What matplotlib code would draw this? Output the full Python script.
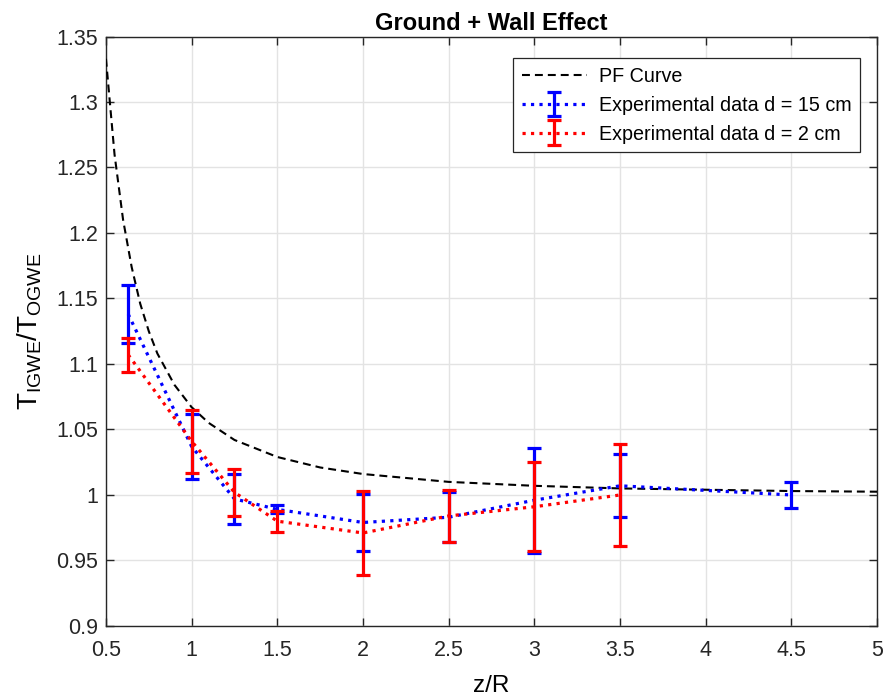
import matplotlib
matplotlib.use("Agg")
import matplotlib.pyplot as plt
from matplotlib.legend_handler import HandlerErrorbar
from matplotlib.container import ErrorbarContainer

plt.rcParams['font.family'] = ['Liberation Sans', 'DejaVu Sans']
plt.rcParams['mathtext.default'] = 'regular'
plt.rcParams['mathtext.fontset'] = 'custom'
plt.rcParams['mathtext.rm'] = 'Liberation Sans'

# PF curve
pf_x = [0.5, 0.55, 0.6, 0.65, 0.7, 0.75, 0.8, 0.9, 1.0, 1.1, 1.25, 1.5, 1.75, 2.0, 2.5, 3.0, 3.5, 4.0, 4.5, 5.0]
pf_y = [1.333, 1.260, 1.210, 1.174, 1.146, 1.125, 1.108, 1.084, 1.067, 1.055, 1.042, 1.029, 1.021, 1.016, 1.010, 1.007, 1.005, 1.004, 1.003, 1.0025]

# Experimental d = 15 cm
b_x = [0.63, 1.0, 1.25, 1.5, 2.0, 2.5, 3.0, 3.5, 4.5]
b_y = [1.138, 1.037, 0.997, 0.989, 0.979, 0.983, 0.996, 1.007, 1.000]
b_err = [0.022, 0.025, 0.019, 0.003, 0.022, 0.019, 0.040, 0.024, 0.010]

# Experimental d = 2 cm
r_x = [0.63, 1.0, 1.25, 1.5, 2.0, 2.5, 3.0, 3.5]
r_y = [1.107, 1.041, 1.002, 0.980, 0.971, 0.984, 0.991, 1.000]
r_err = [0.013, 0.024, 0.018, 0.008, 0.032, 0.020, 0.034, 0.039]

fig = plt.figure(figsize=(8.83, 6.98), dpi=100)
ax = fig.add_axes([0.12, 0.1032, 0.8732, 0.8445])

ax.plot(pf_x, pf_y, color='black', ls=(0, (3.8, 2.4)), lw=1.5, label='PF Curve', zorder=3)
ax.errorbar(b_x, b_y, yerr=b_err, color='blue', ls=':', lw=2.3, elinewidth=2.3,
            capsize=4.8, capthick=2.3, label='Experimental data d = 15 cm', zorder=4)
ax.errorbar(r_x, r_y, yerr=r_err, color='red', ls=':', lw=2.3, elinewidth=2.3,
            capsize=4.8, capthick=2.3, label='Experimental data d = 2 cm', zorder=5)

ax.set_xlim(0.5, 5)
ax.set_ylim(0.9, 1.35)
ax.set_xticks([0.5, 1, 1.5, 2, 2.5, 3, 3.5, 4, 4.5, 5])
ax.set_xticklabels(['0.5', '1', '1.5', '2', '2.5', '3', '3.5', '4', '4.5', '5'])
yt = [0.9, 0.95, 1.0, 1.05, 1.1, 1.15, 1.2, 1.25, 1.3, 1.35]
ax.set_yticks(yt)
ax.set_yticklabels(['0.9', '0.95', '1', '1.05', '1.1', '1.15', '1.2', '1.25', '1.3', '1.35'])
ax.tick_params(direction='in', top=True, right=True, labelsize=15.5, length=6, width=1,
               colors='#262626')
ax.tick_params(axis='y', pad=5.5)
ax.tick_params(axis='x', pad=10)
for s in ax.spines.values():
    s.set_color('#262626')
    s.set_linewidth(1)
ax.grid(True, color='#e3e3e3', lw=1)
ax.set_axisbelow(True)

ax.set_title('Ground + Wall Effect', fontsize=17, fontweight='bold', pad=5)
ax.set_xlabel('z/R', fontsize=17.5, labelpad=10)
ax.set_ylabel('$T_{IGWE}/T_{OGWE}$', fontsize=20, labelpad=9)

leg = ax.legend(loc='upper right', bbox_to_anchor=(0.978, 0.9635), fontsize=14.2,
                fancybox=False, edgecolor='#262626', framealpha=1, borderpad=0.45,
                handlelength=3.3, labelspacing=0.5, handletextpad=0.6, borderaxespad=0,
                handler_map={ErrorbarContainer: HandlerErrorbar(xerr_size=0.5, yerr_size=0.62)})
leg.get_frame().set_linewidth(0.9)

fig.savefig('out.png', dpi=100)
